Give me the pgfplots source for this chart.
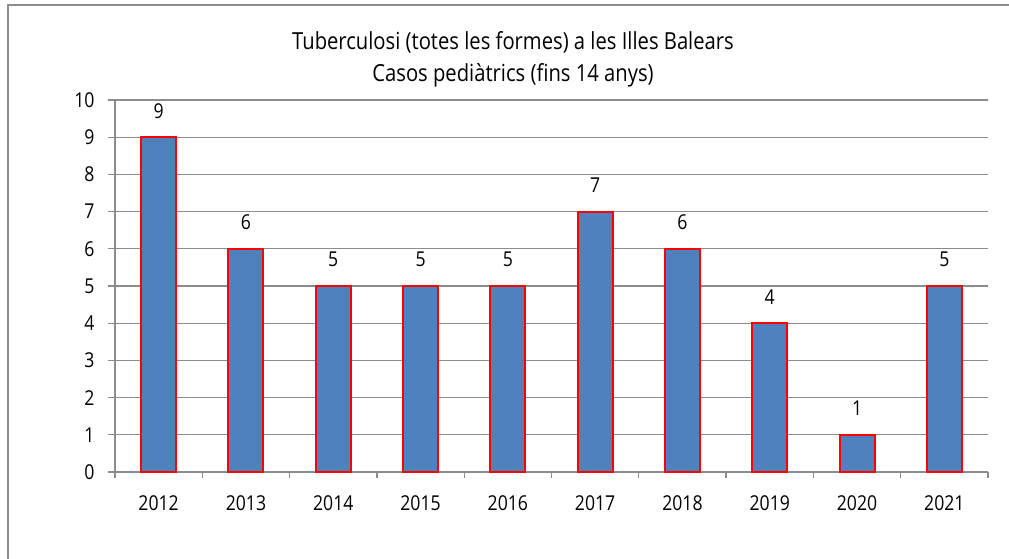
\documentclass[border=0pt]{standalone}
\usepackage{fontspec}
\setmainfont{Open Sans}[FakeStretch=0.86]
\usepackage{pgfplots}
\pgfplotsset{compat=1.18}
\definecolor{barblue}{HTML}{4F81BD}
\definecolor{gridgray}{HTML}{8C8C8C}
\begin{document}
\begin{tikzpicture}[x=1pt,y=1pt]
\useasboundingbox (0,0) rectangle (1009,558);
\draw[gridgray,line width=1.5pt] (8,-20) -- (8,553) -- (1030,553);
\node[font=\fontsize{23.5}{32}\selectfont,align=center] at (513,499) {Tuberculosi (totes les formes) a les Illes Balears\\Casos pediàtrics (fins 14 anys)};
\begin{axis}[
  at={(115pt,86pt)}, anchor=south west,
  scale only axis, width=873pt, height=372pt,
  xmin=-0.5, xmax=9.5, ymin=0, ymax=10,
  ytick={0,1,...,10},
  xtick={0,...,9},
  xticklabels={2012,2013,2014,2015,2016,2017,2018,2019,2020,2021},
  minor xtick={-0.5,0.5,...,9.5},
  axis x line*=bottom, axis y line*=left,
  axis line style={gridgray,line width=1.3pt,-},
  tick align=outside,
  major tick length=7pt, minor tick length=6pt,
  every major x tick/.append style={draw=none},
  every tick/.append style={gridgray,line width=1.3pt},
  ymajorgrids, grid style={gridgray,line width=1.3pt},
  tick label style={font=\fontsize{20.5}{24}\selectfont},
  /pgf/number format/assume math mode=true,
  xticklabel style={yshift=-13pt},
  yticklabel style={xshift=-10pt},
  ybar, bar width=35pt,
  nodes near coords,
  every node near coord/.append style={font=\fontsize{20.5}{24}\selectfont,inner sep=0pt,yshift=18pt,anchor=south},
  clip=false,
]
\addplot[fill=barblue,draw=red,line width=2pt] coordinates {(0,9) (1,6) (2,5) (3,5) (4,5) (5,7) (6,6) (7,4) (8,1) (9,5)};
\end{axis}
\end{tikzpicture}
\end{document}
